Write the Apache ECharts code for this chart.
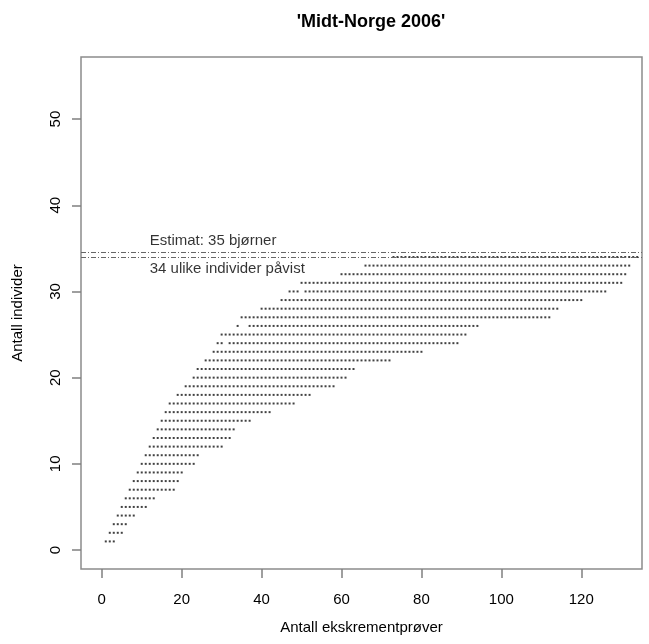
<!DOCTYPE html>
<html>
<head>
<meta charset="utf-8">
<script src="https://cdn.jsdelivr.net/npm/echarts@6/dist/echarts.min.js"></script>
<style>html,body{margin:0;padding:0;background:#fff}#main{width:649px;height:644px}</style>
</head>
<body>
<div id="main"></div>
<script>
// antall individer (y) med første og siste antall prøver (x) i hver rad
var rowY     = [1,2,3,4,5,6,7,8,9,10,11,12,13,14,15,16,17,18,19,20,21,22,23,24,25,26,27,28,29,30,31,32,33,34];
var rowStart = [1,2,3,4,5,6,7,8,9,10,11,12,13,14,15,16,17,19,21,23,24,26,28,29,30,34,35,40,45,47,50,60,66,73];
var rowEnd   = [3,5,6,8,11,13,18,19,20,23,24,30,32,33,37,42,48,52,58,61,63,72,80,89,91,94,112,114,120,126,130,131,132,134];
// punkter som mangler inne i en rad
var rowGaps  = {24:[31], 26:[35,36], 30:[50]};
var xTicks = [0,20,40,60,80,100,120];
var yTicks = [0,10,20,30,40,50];
var estimat = 34.5, pavist = 34;
var labelX = 12;

var points = [];
for (var i=0;i<rowY.length;i++){
	var gap = rowGaps[rowY[i]] || [];
	for (var x=rowStart[i]; x<=rowEnd[i]; x++){
		if (gap.indexOf(x) < 0) points.push([x, rowY[i]]);
	}
}

var font = 'Liberation Sans, Arial, sans-serif';
var myChart = echarts.init(document.getElementById('main'));
myChart.setOption({
	animation:false,
	title:{
		text:"'Midt-Norge 2006'",
		left:366, top:8, textAlign:'center',
		textStyle:{fontFamily:font, fontSize:18, fontWeight:'bold', color:'#000'}
	},
	grid:{left:81, right:7, top:57, bottom:75, show:true, borderColor:'#8c8c8c', borderWidth:1.5, backgroundColor:'#fff'},
	xAxis:{
		type:'value', min:-5.2, max:135.2,
		name:'Antall ekskrementprøver', nameLocation:'middle', nameGap:51,
		nameTextStyle:{fontFamily:font, fontSize:15, color:'#000'},
		axisLine:{show:false, onZero:false},
		splitLine:{show:false},
		axisTick:{show:true, length:9, customValues:xTicks, lineStyle:{color:'#808080', width:1.5}},
		axisLabel:{customValues:xTicks, margin:23, fontFamily:font, fontSize:15, color:'#000'}
	},
	yAxis:{
		type:'value', min:-2.2, max:57.2,
		name:'Antall individer', nameLocation:'middle', nameGap:56,
		nameTextStyle:{fontFamily:font, fontSize:15, color:'#000'},
		axisLine:{show:false, onZero:false},
		splitLine:{show:false},
		axisTick:{show:true, length:9, customValues:yTicks, lineStyle:{color:'#808080', width:1.5}},
		axisLabel:{customValues:yTicks, rotate:90, margin:18, fontFamily:font, fontSize:15, color:'#000'}
	},
	series:[{
		type:'scatter',
		data:points,
		symbol:'rect',
		symbolSize:[2,2],
		itemStyle:{color:'#111'},
		silent:true,
		markLine:{
			silent:true, symbol:'none',
			label:{show:false},
			lineStyle:{color:'#666', width:1, type:[5,2,1,2]},
			data:[{yAxis:estimat},{yAxis:pavist}]
		}
	},{
		type:'scatter',
		symbolSize:0,
		data:[
			{value:[labelX, 35.9], name:'Estimat: 35 bjørner'},
			{value:[labelX, 32.6], name:'34 ulike individer påvist'}
		],
		label:{show:true, position:'right', distance:0, formatter:'{b}', fontFamily:font, fontSize:15, color:'#000'}
	}]
});
</script>
</body>
</html>
